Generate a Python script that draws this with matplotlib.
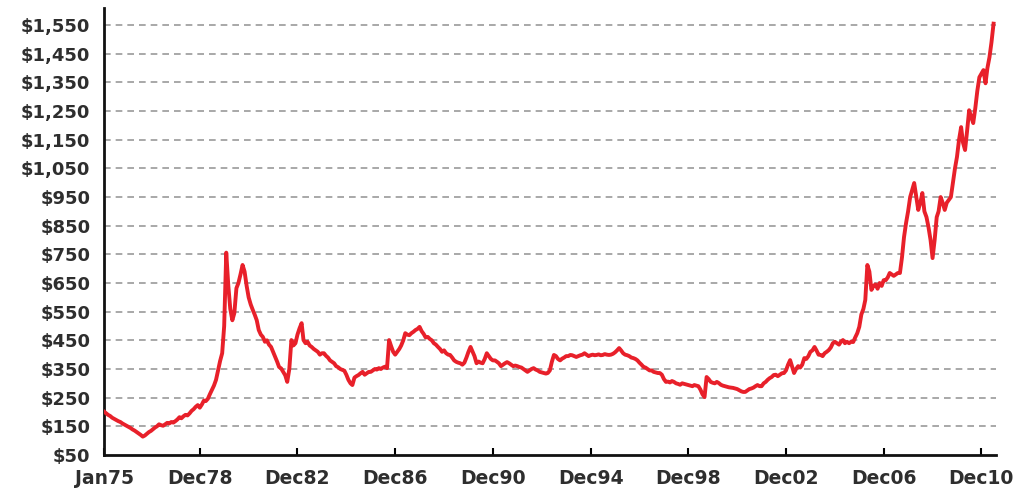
import matplotlib
matplotlib.use("Agg")
import matplotlib.pyplot as plt
import pandas as pd

# Monthly gold price (USD/oz), Jan 1975 onward
p1975 = [201, 195, 190, 186, 180, 176, 172, 168, 165, 160, 156, 152]
p1976 = [148, 144, 139, 135, 130, 125, 120, 114, 118, 124, 130, 134]
p1977 = [140, 146, 150, 157, 154, 152, 157, 162, 160, 165, 163, 168]
p1978 = [174, 182, 178, 185, 190, 188, 195, 204, 210, 218, 224, 215]
p1979 = [226, 240, 238, 246, 262, 277, 292, 312, 346, 378, 405, 500]
p1980 = [756, 640, 560, 520, 545, 632, 650, 680, 713, 690, 640, 600]
p1981 = [575, 556, 540, 520, 486, 470, 462, 445, 450, 435, 427, 410]
p1982 = [392, 375, 357, 352, 340, 328, 305, 350, 451, 432, 440, 470]
p1983 = [492, 510, 451, 440, 445, 432, 427, 420, 415, 410, 400, 405]
p1984 = [405, 396, 390, 380, 375, 370, 360, 356, 350, 347, 344, 330]
p1985 = [312, 300, 294, 320, 325, 329, 335, 340, 330, 335, 340, 340]
p1986 = [345, 350, 348, 353, 350, 355, 358, 353, 451, 430, 410, 400]
p1987 = [410, 420, 432, 450, 475, 470, 468, 475, 480, 486, 490, 497]
p1988 = [482, 472, 460, 462, 455, 450, 440, 435, 427, 420, 410, 415]
p1989 = [405, 400, 399, 390, 380, 375, 372, 370, 365, 372, 390, 410]
p1990 = [427, 410, 395, 370, 376, 372, 370, 385, 405, 395, 385, 380]
p1991 = [380, 375, 370, 360, 365, 370, 374, 370, 365, 360, 362, 360]
p1992 = [357, 355, 350, 345, 340, 345, 350, 353, 348, 345, 340, 338]
p1993 = [336, 334, 336, 345, 375, 399, 395, 385, 380, 386, 390, 395]
p1994 = [395, 399, 398, 395, 392, 395, 398, 400, 405, 400, 395, 398]
p1995 = [400, 398, 399, 401, 398, 399, 402, 400, 399, 400, 403, 408]
p1996 = [415, 423, 415, 405, 400, 398, 395, 390, 388, 385, 380, 372]
p1997 = [365, 357, 355, 350, 345, 345, 340, 338, 336, 336, 330, 315]
p1998 = [305, 306, 303, 308, 305, 300, 298, 295, 300, 298, 296, 294]
p1999 = [292, 290, 294, 292, 290, 278, 262, 252, 322, 315, 305, 302]
p2000 = [300, 305, 301, 295, 292, 290, 288, 286, 285, 284, 282, 280]
p2001 = [276, 272, 270, 270, 275, 280, 282, 285, 290, 294, 290, 290]
p2002 = [300, 305, 312, 318, 322, 329, 330, 325, 330, 335, 336, 345]
p2003 = [365, 381, 360, 336, 350, 360, 355, 365, 388, 385, 395, 410]
p2004 = [415, 427, 415, 400, 399, 395, 405, 410, 416, 425, 440, 445]
p2005 = [440, 435, 445, 451, 440, 445, 440, 445, 444, 460, 475, 497]
p2006 = [540, 560, 591, 713, 690, 626, 640, 645, 630, 650, 640, 660]
p2007 = [660, 670, 685, 680, 675, 680, 685, 685, 740, 810, 860, 900]
p2008 = [950, 975, 999, 950, 905, 930, 964, 900, 880, 845, 800, 737]
p2009 = [800, 880, 900, 950, 930, 905, 930, 940, 950, 1000, 1050, 1090]
p2010 = [1150, 1194, 1140, 1114, 1180, 1253, 1230, 1208, 1260, 1320, 1368, 1380]
p2011 = [1393, 1347, 1400, 1438, 1490, 1555]

prices = (p1975 + p1976 + p1977 + p1978 + p1979 + p1980 + p1981 + p1982 + p1983
          + p1984 + p1985 + p1986 + p1987 + p1988 + p1989 + p1990 + p1991 + p1992
          + p1993 + p1994 + p1995 + p1996 + p1997 + p1998 + p1999 + p2000 + p2001
          + p2002 + p2003 + p2004 + p2005 + p2006 + p2007 + p2008 + p2009 + p2010
          + p2011)
dates = pd.date_range("1975-01-01", periods=len(prices), freq="MS")

x_tick_dates = ["1975-01-01", "1978-12-01", "1982-12-01", "1986-12-01", "1990-12-01",
                "1994-12-01", "1998-12-01", "2002-12-01", "2006-12-01", "2010-12-01"]
x_tick_labels = ["Jan75", "Dec78", "Dec82", "Dec86", "Dec90",
                 "Dec94", "Dec98", "Dec02", "Dec06", "Dec10"]
y_ticks = list(range(50, 1551, 100))
y_tick_labels = ["${:,}".format(v) for v in y_ticks]

fig = plt.figure(figsize=(10.21, 4.94), dpi=100)
ax = fig.add_axes([0.102, 0.079, 0.874, 0.905])

# dashed horizontal guides (none at the $50 baseline)
for v in y_ticks[1:]:
    ax.axhline(v, color="#999999", lw=1.2, ls=(0, (4, 3)), zorder=1)

ax.plot(dates, prices, color="#e8202a", lw=2.8, zorder=3)

ax.set_ylim(50, 1610)
ax.set_xlim(pd.Timestamp("1975-01-01"), pd.Timestamp("2011-07-15"))

ax.set_yticks(y_ticks)
ax.set_yticklabels(y_tick_labels, fontsize=13, fontweight="bold", color="#2e2e2e")
ax.set_xticks(pd.to_datetime(x_tick_dates))
ax.set_xticklabels(x_tick_labels, fontsize=13.5, fontweight="bold", color="#2e2e2e")

ax.tick_params(axis="y", length=0, pad=10)
ax.tick_params(axis="x", direction="in", length=5, width=1.5, color="black", pad=10)

for side in ["top", "right"]:
    ax.spines[side].set_visible(False)
for side in ["left", "bottom"]:
    ax.spines[side].set_linewidth(2.0)
    ax.spines[side].set_color("#111111")

fig.savefig("out.png", dpi=100)
